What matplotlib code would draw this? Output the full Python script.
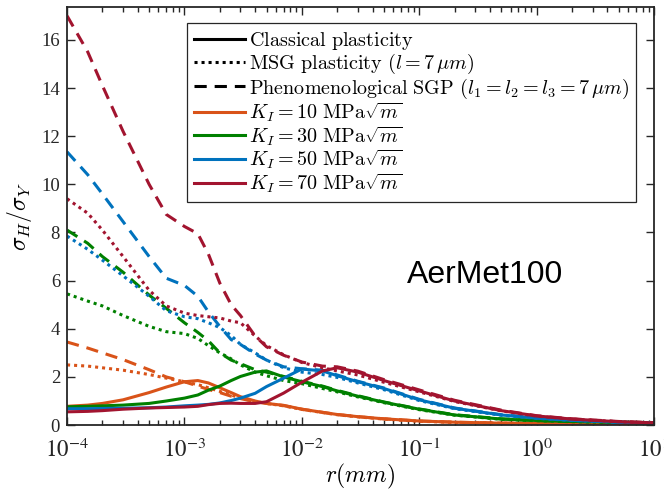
import matplotlib
matplotlib.use("Agg")
import matplotlib.pyplot as plt
from matplotlib.font_manager import FontProperties

# r grid (mm) shared by all curves
r = [1e-4, 1.5e-4, 2e-4, 3e-4, 5e-4, 7e-4, 1e-3, 1.3e-3, 1.6e-3, 2e-3,
     2.5e-3, 3e-3, 4e-3, 5e-3, 7e-3, 1e-2, 1.5e-2, 2e-2, 3e-2, 5e-2,
     0.1, 0.2, 0.5, 1, 2, 5, 10]

# classical plasticity
k10_cl = [0.78, 0.83, 0.90, 1.05, 1.35, 1.58, 1.80, 1.85, 1.75, 1.55,
          1.35, 1.18, 1.00, 0.90, 0.82, 0.66, 0.53, 0.44, 0.35, 0.26,
          0.17, 0.12, 0.08, 0.07, 0.06, 0.05, 0.05]
k30_cl = [0.76, 0.78, 0.80, 0.83, 0.90, 1.00, 1.12, 1.25, 1.45, 1.62,
          1.85, 2.02, 2.20, 2.25, 2.00, 1.80, 1.60, 1.42, 1.20, 0.95,
          0.66, 0.42, 0.25, 0.19, 0.15, 0.12, 0.10]
k50_cl = [0.68, 0.68, 0.69, 0.70, 0.72, 0.75, 0.80, 0.83, 0.86, 0.92,
          1.02, 1.12, 1.32, 1.60, 1.95, 2.33, 2.25, 2.05, 1.80, 1.52,
          1.05, 0.70, 0.42, 0.29, 0.20, 0.12, 0.08]
k70_cl = [0.55, 0.57, 0.60, 0.66, 0.71, 0.73, 0.75, 0.78, 0.85, 0.90,
          0.91, 0.90, 0.90, 0.97, 1.33, 1.78, 2.25, 2.38, 2.20, 1.85,
          1.42, 1.00, 0.60, 0.38, 0.25, 0.14, 0.09]

# MSG plasticity
k10_msg = [2.50, 2.45, 2.38, 2.28, 2.10, 1.95, 1.80, 1.68, 1.55, 1.40,
           1.25, 1.12, 0.98, 0.90, 0.80, 0.65, 0.52, 0.43, 0.34, 0.25,
           0.16, 0.11, 0.08, 0.07, 0.06, 0.05, 0.05]
k30_msg = [5.45, 5.15, 4.95, 4.55, 4.10, 3.88, 3.80, 3.60, 3.30, 3.00,
           2.75, 2.50, 2.20, 2.05, 1.85, 1.72, 1.52, 1.38, 1.17, 0.93,
           0.64, 0.41, 0.24, 0.18, 0.14, 0.11, 0.09]
k50_msg = [7.85, 7.30, 6.85, 6.20, 5.35, 4.75, 4.50, 4.42, 4.25, 4.05,
           3.72, 3.35, 3.00, 2.70, 2.38, 2.20, 2.10, 1.98, 1.75, 1.47,
           1.02, 0.68, 0.41, 0.28, 0.19, 0.12, 0.08]
k70_msg = [9.40, 8.80, 8.10, 7.00, 5.60, 4.95, 4.65, 4.55, 4.50, 4.45,
           4.32, 4.25, 3.70, 3.30, 2.92, 2.60, 2.38, 2.25, 2.08, 1.78,
           1.38, 0.98, 0.59, 0.37, 0.25, 0.14, 0.09]

# phenomenological SGP
k10_sgp = [3.45, 3.20, 3.00, 2.72, 2.30, 2.00, 1.80, 1.62, 1.48, 1.35,
           1.20, 1.10, 0.97, 0.90, 0.81, 0.66, 0.53, 0.44, 0.35, 0.26,
           0.17, 0.12, 0.08, 0.07, 0.06, 0.05, 0.05]
k30_sgp = [8.10, 7.55, 7.00, 6.35, 5.40, 4.85, 4.25, 3.85, 3.50, 3.00,
           2.70, 2.55, 2.30, 2.20, 2.02, 1.82, 1.62, 1.44, 1.22, 0.96,
           0.67, 0.43, 0.26, 0.19, 0.15, 0.12, 0.10]
k50_sgp = [11.35, 10.40, 9.60, 8.45, 7.00, 6.10, 5.80, 5.35, 4.70, 4.10,
           3.55, 3.35, 2.95, 2.70, 2.42, 2.34, 2.28, 2.08, 1.82, 1.54,
           1.07, 0.71, 0.43, 0.30, 0.20, 0.12, 0.08]
k70_sgp = [17.0, 15.5, 14.1, 12.2, 10.0, 8.75, 8.25, 7.95, 7.1, 5.9,
           5.0, 4.55, 3.7, 3.25, 2.9, 2.62, 2.45, 2.42, 2.24, 1.89,
           1.46, 1.03, 0.62, 0.39, 0.26, 0.15, 0.10]

k_values = [10, 30, 50, 70]
colors = ["#D95319", "#008000", "#0072BD", "#A2142F"]
classical = [k10_cl, k30_cl, k50_cl, k70_cl]
msg = [k10_msg, k30_msg, k50_msg, k70_msg]
sgp = [k10_sgp, k30_sgp, k50_sgp, k70_sgp]

plt.rcParams["font.family"] = "Liberation Serif"
plt.rcParams["mathtext.fontset"] = "stix"

axcol = "#262626"
lw = 2.2
dotted = (0, (1, 1.3))
dashed = (0, (4, 2.6))

fig = plt.figure(figsize=(6.64, 4.92), dpi=100)
ax = fig.add_axes([0.101, 0.136, 0.884, 0.849])

for i in range(4):
    ax.plot(r, classical[i], color=colors[i], lw=lw, linestyle="-")
    ax.plot(r, msg[i], color=colors[i], lw=lw, linestyle=dotted)
    ax.plot(r, sgp[i], color=colors[i], lw=lw, linestyle=dashed)

ax.set_xscale("log")
ax.set_xlim(1e-4, 10)
ax.set_ylim(0, 17.35)
ax.set_yticks(range(0, 17, 2))
ax.set_xticks([1e-4, 1e-3, 1e-2, 1e-1, 1, 10])
ax.set_xticklabels([r"$10^{-4}$", r"$10^{-3}$", r"$10^{-2}$",
                    r"$10^{-1}$", r"$10^{0}$", r"$10^{1}$"])

ax.tick_params(which="both", direction="in", top=True, right=True,
               color=axcol, labelcolor=axcol, width=1.0)
ax.tick_params(which="major", length=6)
ax.tick_params(which="minor", length=3.5)
ax.tick_params(axis="x", which="major", labelsize=16.5, pad=10)
ax.tick_params(axis="y", which="major", labelsize=13.5, pad=5)
for s in ax.spines.values():
    s.set_color(axcol)
    s.set_linewidth(1.3)

cm_label = FontProperties(math_fontfamily="cm", size=17)
ax.set_xlabel(r"$r(mm)$", fontproperties=cm_label, labelpad=0)
ax.set_ylabel(r"$\sigma_H/\sigma_Y$", fontproperties=cm_label, labelpad=5)

fig.text(485 / 664, 1 - 275 / 492, "AerMet100", fontsize=23,
         family="Liberation Sans", ha="center", va="center")

# legend: line style entries then colour entries
handles = [
    plt.Line2D([], [], color="black", lw=lw, linestyle="-"),
    plt.Line2D([], [], color="black", lw=lw, linestyle=dotted),
    plt.Line2D([], [], color="black", lw=lw, linestyle=dashed),
]
labels = [
    r"$\mathrm{Classical\ plasticity}$",
    r"$\mathrm{MSG\ plasticity}\ (l=7\,\mu m)$",
    r"$\mathrm{Phenomenological\ SGP}\ (l_1=l_2=l_3=7\,\mu m)$",
]
for k, c in zip(k_values, colors):
    handles.append(plt.Line2D([], [], color=c, lw=lw))
    labels.append(r"$K_I=%d\ \mathrm{MPa}\sqrt{m}$" % k)

leg_font = FontProperties(math_fontfamily="cm", size=14.5)
leg = ax.legend(handles, labels, loc="upper right", prop=leg_font,
                bbox_to_anchor=(0.969, 0.962), borderaxespad=0,
                handlelength=2.5, handletextpad=0.2, labelspacing=0.0,
                borderpad=0.35, fancybox=False, framealpha=1,
                edgecolor=axcol)
leg.get_frame().set_linewidth(0.9)

fig.savefig("out.png", dpi=100)
